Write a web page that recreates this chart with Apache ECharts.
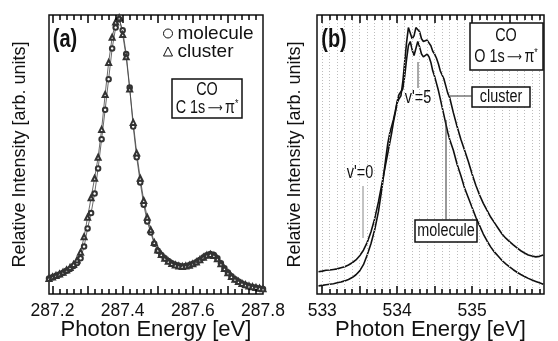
<!DOCTYPE html>
<html>
<head>
<meta charset="utf-8">
<script src="https://cdn.jsdelivr.net/npm/echarts@6/dist/echarts.min.js"></script>
<style>
  html, body { margin: 0; background: #fff; }
  #chart { width: 558px; height: 341px; }
</style>
</head>
<body>
<div id="chart"></div>
<script>
// panel (a): C 1s -> pi*, photon energy (eV)
const A_ENERGY = [
  287.19, 287.20, 287.21, 287.22, 287.23, 287.24, 287.25, 287.26, 287.27, 287.28,
  287.29, 287.30, 287.31, 287.32, 287.33, 287.34, 287.35, 287.36, 287.37, 287.38,
  287.39, 287.40, 287.41, 287.42, 287.43, 287.44, 287.45, 287.46, 287.47, 287.48,
  287.49, 287.50, 287.51, 287.52, 287.53, 287.54, 287.55, 287.56, 287.57, 287.58,
  287.59, 287.60, 287.61, 287.62, 287.63, 287.64, 287.65, 287.66, 287.67, 287.68,
  287.69, 287.70, 287.71, 287.72, 287.73, 287.74, 287.75, 287.76, 287.77, 287.78,
  287.79, 287.80
];
const A_MOLECULE = [
  0.056, 0.060, 0.065, 0.070, 0.076, 0.083, 0.090, 0.100, 0.111, 0.128,
  0.170, 0.235, 0.290, 0.360, 0.450, 0.555, 0.660, 0.770, 0.880, 0.955,
  0.985, 0.945, 0.860, 0.740, 0.600, 0.490, 0.400, 0.320, 0.260, 0.220,
  0.180, 0.155, 0.140, 0.128, 0.118, 0.110, 0.105, 0.101, 0.099, 0.100,
  0.103, 0.108, 0.114, 0.122, 0.131, 0.139, 0.143, 0.140, 0.128, 0.110,
  0.092, 0.077, 0.064, 0.053, 0.045, 0.038, 0.032, 0.028, 0.025, 0.022,
  0.020, 0.018
];
const A_CLUSTER = [
  0.056, 0.061, 0.066, 0.072, 0.078, 0.086, 0.095, 0.106, 0.122, 0.150,
  0.205, 0.275, 0.345, 0.415, 0.490, 0.590, 0.715, 0.830, 0.920, 0.975,
  0.990, 0.930, 0.850, 0.735, 0.615, 0.505, 0.415, 0.335, 0.275, 0.230,
  0.185, 0.158, 0.142, 0.128, 0.117, 0.109, 0.104, 0.100, 0.099, 0.100,
  0.103, 0.108, 0.115, 0.123, 0.132, 0.139, 0.142, 0.138, 0.126, 0.108,
  0.091, 0.076, 0.063, 0.053, 0.045, 0.038, 0.033, 0.029, 0.026, 0.023,
  0.021, 0.019
];
const A_LABELS = [287.2, 287.4, 287.6, 287.8];

// panel (b): O 1s -> pi*
const B_ENERGY = [
  532.95, 533.00, 533.05, 533.10, 533.15, 533.20, 533.25, 533.30, 533.35, 533.40,
  533.45, 533.50, 533.55, 533.60, 533.65, 533.70, 533.75, 533.80, 533.85,
  533.875, 533.900, 533.925, 533.950, 533.975, 534.000, 534.025, 534.050, 534.075,
  534.100, 534.125, 534.150, 534.175, 534.200, 534.225, 534.250, 534.275, 534.300,
  534.325, 534.350, 534.375, 534.400, 534.425, 534.450, 534.475, 534.500, 534.525,
  534.550, 534.575, 534.600, 534.625, 534.650, 534.675, 534.700,
  534.75, 534.80, 534.85, 534.90, 534.95, 535.00, 535.05, 535.10, 535.15, 535.20,
  535.25, 535.30, 535.35, 535.40, 535.45, 535.50, 535.55, 535.60, 535.65, 535.70,
  535.75, 535.80, 535.85, 535.90, 535.95
];
const B_CLUSTER = [
  0.080, 0.082, 0.085, 0.086, 0.088, 0.090, 0.094, 0.098, 0.104, 0.112,
  0.122, 0.137, 0.157, 0.185, 0.222, 0.270, 0.330, 0.400, 0.470,
  0.505, 0.540, 0.575, 0.615, 0.650, 0.685, 0.700, 0.710, 0.760,
  0.830, 0.900, 0.955, 0.950, 0.915, 0.925, 0.955, 0.958, 0.940,
  0.915, 0.905, 0.905, 0.910, 0.905, 0.890, 0.870, 0.860, 0.845,
  0.825, 0.800, 0.785, 0.770, 0.745, 0.720, 0.705,
  0.650, 0.600, 0.555, 0.515, 0.475, 0.430, 0.390, 0.355, 0.325, 0.300,
  0.275, 0.255, 0.235, 0.215, 0.200, 0.188, 0.176, 0.165, 0.155, 0.147,
  0.140, 0.136, 0.133, 0.135, 0.140
];
const B_MOLECULE = [
  0.029, 0.031, 0.033, 0.035, 0.037, 0.040, 0.043, 0.047, 0.052, 0.059,
  0.069, 0.083, 0.105, 0.140, 0.180, 0.230, 0.295, 0.385, 0.490,
  0.540, 0.575, 0.600, 0.625, 0.655, 0.690, 0.715, 0.720, 0.735,
  0.780, 0.840, 0.890, 0.905, 0.875, 0.855, 0.880, 0.905, 0.885,
  0.860, 0.850, 0.855, 0.860, 0.850, 0.830, 0.800, 0.780, 0.755,
  0.730, 0.700, 0.670, 0.640, 0.610, 0.580, 0.555,
  0.515, 0.465, 0.425, 0.380, 0.345, 0.310, 0.275, 0.245, 0.215, 0.190,
  0.168, 0.150, 0.135, 0.120, 0.108, 0.097, 0.087, 0.078, 0.070, 0.063,
  0.056, 0.050, 0.045, 0.040, 0.035
];
const B_LABELS = [533, 534, 535, 536];

const SANS = "'Liberation Sans', Arial, sans-serif";
const INK = "#111";

function steps(from, to, step) {
  const out = [];
  const n = Math.round((to - from) / step);
  for (let i = 0; i <= n; i++) out.push(+(from + i * step).toFixed(4));
  return out;
}
const zip = (xs, ys) => xs.map((x, i) => [x, ys[i]]);

const A_MIN = 287.19, A_MAX = 287.80;
const B_MIN = 532.93, B_MAX = 535.96;
const isIn = (v, list) => list.some((m) => Math.abs(m - v) < 1e-6);
const aMajor = steps(287.2, 287.7, 0.1);
const aMinor = steps(287.22, 287.78, 0.02).filter((v) => !isIn(v, aMajor));
const bMajor = steps(533, 535.5, 0.5);
const bMinor = steps(533.1, 535.9, 0.1).filter((v) => !isIn(v, bMajor));
const bGrid = steps(533, 535.9, 0.1);

// inward ticks as short vertical segments in data space (y spans 0..1 over 279px)
const MAJ = 8 / 279, MIN = 5 / 279;
function tickSegments(major, minor) {
  const out = [];
  major.forEach((v) => { out.push([v, 0, v, MAJ], [v, 1, v, 1 - MAJ]); });
  minor.forEach((v) => { out.push([v, 0, v, MIN], [v, 1, v, 1 - MIN]); });
  return out;
}
function segData(segs) {
  return segs.map((s) => ({ coords: [[s[0], s[1]], [s[2], s[3]]] }));
}
function tickSeries(grid, segs, color, width, dash) {
  return {
    type: "lines", coordinateSystem: "cartesian2d", xAxisIndex: grid, yAxisIndex: grid,
    silent: true, z: 4, polyline: false,
    lineStyle: { color, width, opacity: 1, type: dash || "solid" },
    data: segData(segs),
  };
}

function xAxis(grid, min, max, labels, digits) {
  return {
    gridIndex: grid, type: "value", min, max,
    axisLine: { show: false },
    axisTick: { show: false },
    axisLabel: { show: true, customValues: labels, margin: 8, fontSize: 17.5,
      color: INK, fontFamily: SANS, formatter: (v) => v.toFixed(digits) },
    splitLine: { show: false },
    name: "Photon Energy [eV]", nameLocation: "middle", nameGap: 25, nameMoveOverlap: false,
    nameTextStyle: { fontSize: 22, color: INK, fontFamily: SANS },
  };
}
function yAxis(grid, gap) {
  return {
    gridIndex: grid, type: "value", min: 0, max: 1,
    axisLine: { show: false }, axisTick: { show: false },
    axisLabel: { show: false }, splitLine: { show: false },
    name: "Relative Intensity [arb. units]", nameLocation: "middle", nameGap: gap,
    nameMoveOverlap: false,
    nameTextStyle: { fontSize: 18, color: INK, fontFamily: SANS },
  };
}

// annotation helpers (narrow Helvetica look: Liberation Sans squeezed)
const SQ = 0.8;
const txt = (x, y, text, size, extra) => ({
  type: "text", x, y, z: 20, scaleX: SQ,
  style: Object.assign({ text, fontSize: size, fontFamily: SANS, fill: INK,
    align: "center", verticalAlign: "middle" }, extra || {}),
});
const line = (x1, y1, x2, y2, color) => ({
  type: "line", z: 15, shape: { x1, y1, x2, y2 },
  style: { stroke: color || "#333", lineWidth: 1 },
});
const box = (x, y, w, h) => ({
  type: "rect", z: 12, shape: { x, y, width: w, height: h },
  style: { fill: "#fff", stroke: INK, lineWidth: 1.5 },
});
const arrowRich = {
  rich: {
    t: { fontSize: 18, fontFamily: SANS, fill: INK },
    a: { fontSize: 13, fontFamily: "'DejaVu Sans', sans-serif", fill: INK, padding: [2, 3, 0, 3] },
    s: { fontSize: 11, fontFamily: SANS, fill: INK, padding: [0, 0, 9, 0] },
  },
};

const chart = echarts.init(document.getElementById("chart"), null, { renderer: "canvas" });
chart.setOption({
  animation: false,
  backgroundColor: "#fff",
  grid: [
    { left: 49, top: 15, width: 214, height: 279, show: true, borderColor: INK,
      borderWidth: 1.5, outerBoundsMode: "none", containLabel: false },
    { left: 317, top: 15, width: 227, height: 279, show: true, borderColor: INK,
      borderWidth: 1.5, outerBoundsMode: "none", containLabel: false },
  ],
  xAxis: [xAxis(0, A_MIN, A_MAX, A_LABELS, 1), xAxis(1, B_MIN, B_MAX, B_LABELS, 0)],
  yAxis: [yAxis(0, 20), yAxis(1, 13)],
  legend: {
    left: 158, top: 19, orient: "vertical", itemGap: -1, itemWidth: 9, itemHeight: 9,
    textStyle: { fontSize: 19, color: INK, fontFamily: SANS },
    data: [
      { name: "molecule", icon: "circle", itemStyle: { color: "#fff", borderColor: INK, borderWidth: 1 } },
      { name: "cluster", icon: "triangle", itemStyle: { color: "#fff", borderColor: INK, borderWidth: 1 } },
    ],
  },
  series: [
    tickSeries(1, bGrid.map((v) => [v, 0, v, 1]), "#bdbdbd", 1, [1, 2]),
    tickSeries(0, tickSegments(aMajor, aMinor), "#000", 1.5),
    tickSeries(1, tickSegments(bMajor, bMinor), "#000", 1.5),
    {
      name: "molecule", type: "line", xAxisIndex: 0, yAxisIndex: 0, z: 3,
      data: zip(A_ENERGY, A_MOLECULE), symbol: "emptyCircle", symbolSize: 4.5,
      showAllSymbol: true, lineStyle: { color: "#444", width: 0.8 },
      itemStyle: { color: "#333", borderWidth: 0.8 },
    },
    {
      name: "cluster", type: "line", xAxisIndex: 0, yAxisIndex: 0, z: 3,
      data: zip(A_ENERGY, A_CLUSTER), symbol: "emptyTriangle", symbolSize: 5,
      showAllSymbol: true, lineStyle: { color: "#444", width: 0.8 },
      itemStyle: { color: "#333", borderWidth: 0.8 },
    },
    {
      name: "cluster (b)", type: "line", xAxisIndex: 1, yAxisIndex: 1, z: 3,
      data: zip(B_ENERGY, B_CLUSTER), symbol: "none",
      lineStyle: { color: INK, width: 1.6 },
    },
    {
      name: "molecule (b)", type: "line", xAxisIndex: 1, yAxisIndex: 1, z: 3,
      data: zip(B_ENERGY, B_MOLECULE), symbol: "none",
      lineStyle: { color: INK, width: 1.6 },
    },
  ],
  graphic: [
    txt(65, 40, "(a)", 25, { fontWeight: "bold" }),
    txt(334, 40, "(b)", 25, { fontWeight: "bold" }),
    // (a) transition box
    box(172, 79, 70, 39),
    txt(207, 90, "CO", 18),
    txt(207, 108, "{t|C 1s}{a|\u27f6}{t|\u03c0}{s|*}", 18, arrowRich),
    // (b) transition box
    box(470, 23, 73, 47),
    txt(506, 36, "CO", 18),
    txt(506, 57, "{t|O 1s}{a|\u27f6}{t|\u03c0}{s|*}", 18, arrowRich),
    // (b) curve labels
    line(448, 96, 472, 96),
    box(472, 87, 58, 20),
    txt(501, 97, "cluster", 18),
    line(446, 120, 446, 220),
    box(415, 220, 62, 22),
    txt(446, 231, "molecule", 18),
    line(418, 62, 418, 88, "#555"),
    txt(418, 98, "v'=5", 18),
    line(363, 186, 363, 238, "#888"),
    txt(360, 173, "v'=0", 18),
  ],
});
</script>
</body>
</html>
